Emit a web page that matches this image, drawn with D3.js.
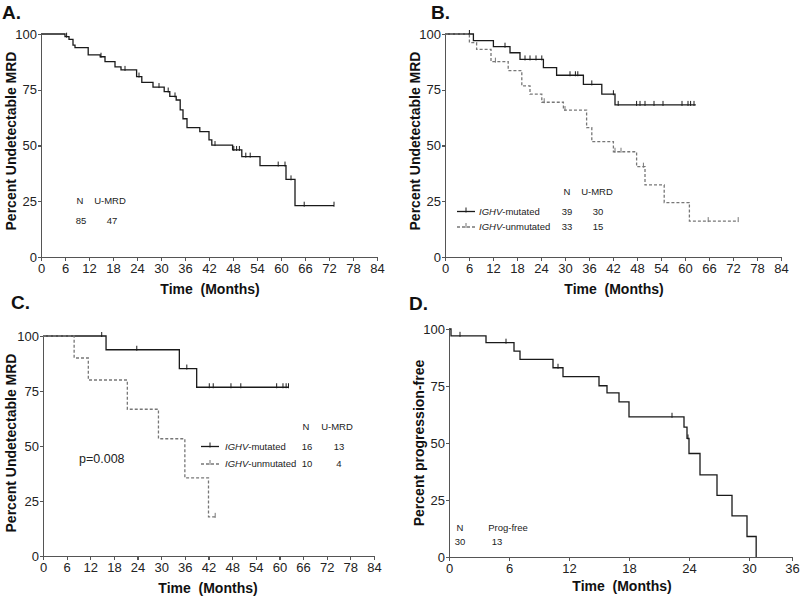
<!DOCTYPE html>
<html>
<head>
<meta charset="utf-8">
<title>Undetectable MRD - Kaplan-Meier</title>
<style>
body { margin:0; background:#fff; }
svg { font-family: "Liberation Sans", Arial, Helvetica, sans-serif; }
.axis path, .axis line { stroke:#555; stroke-width:1.2; shape-rendering:crispEdges; }
.axis text { font-size:13px; fill:#222; }
.ttl { font-size:14px; font-weight:bold; fill:#111; white-space:pre; }
.lbl { font-size:19px; font-weight:bold; fill:#111; }
.leg { font-size:9.5px; fill:#222; }
.km { fill:none; stroke:#1a1a1a; stroke-width:1.3; }
.km.dash { stroke:#777; stroke-dasharray:3,2; }
.cens { stroke:#1a1a1a; stroke-width:1; }
.cens.dash { stroke:#777; }
</style>
</head>
<body>
<script src="https://d3js.org/d3.v7.min.js"></script>
<script>

// ticks
var monthTicks = [0,6,12,18,24,30,36,42,48,54,60,66,72,78,84];
var dMonthTicks = [0,6,12,18,24,30,36];
var pctTicks = [0,25,50,75,100];

// A. all patients -- [month, percent] after each step
var aSteps = [[0,100],[6,98.8],[7,97.6],[8,95],[8.5,93.9],[11.8,90.6],[14.8,89.8],[16,87.6],[18.5,85.3],[20,83.9],
  [23.9,80.9],[25.2,78.3],[28,76.2],[30.8,74.2],[32.2,72],[33.8,70.4],[34.8,66],[35.5,62],[36.5,58],[39.7,56.2],
  [42,52.5],[42.7,50.2],[47.9,48],[50.2,45],[54.75,41],[61.25,34.8],[63.5,23],[73.25,23]];
var aCens = [6.4,15,21,24.5,29.5,31.8,33.5,43.5,48.2,48.9,49.6,51.2,52.3,59.3,61,62.5,65.8,73.25];

// B. IGHV
var bMutSteps = [[0,100],[7.1,97],[12.1,94.3],[16.25,91.6],[18.75,88.6],[24.6,84.9],[27.9,81.5],[34.6,77.4],
  [39.2,73],[42.5,68.2],[62.7,68.2]];
var bMutCens = [6.1,15,20,21.25,22.75,24.2,31.25,32.6,33.2,36.7,42.1,43.3,47.9,48.75,50,52.25,54.5,59.25,60.75,61.4,62.25];
var bUnmSteps = [[0,100],[6.1,96.1],[7.9,93.1],[11.5,87.6],[15.8,83.6],[19.2,76.7],[21.25,73],[24.2,69.4],
  [29.6,65.9],[35.4,58],[36.7,51.7],[42.1,47.2],[47.9,40.5],[50,32.3],[54.8,24.4],[61.1,16.1],[73.3,16.1]];
var bUnmCens = [12.6,24.8,30,42.5,44,49.6,65.8,73.3];

// C. IGHV subset
var cMutSteps = [[0,100],[16,93.75],[34.6,85.2],[39,76.7],[62.3,76.7]];
var cMutCens = [14.9,23.8,36.5,42.2,43.2,47.7,50.2,59.3,60.9,61.7,62.3];
var cUnmSteps = [[0,100],[7.9,90],[11.5,80],[21.4,66.7],[29.3,53.3],[36,35.5],[42,17.8],[43.7,17.8]];
var cUnmCens = [43.7];

// D. progression-free
var dSteps = [[0,100],[0.2,97],[3.7,94],[6.5,90.3],[7.1,86.7],[10.4,83],[11.4,79.1],[15,75.1],[15.8,72],
  [17,68],[18,61.5],[23.5,57],[23.8,52],[24,45.4],[25.1,36],[26.8,27],[28.3,18],[29.8,9],[31,0]];
var dCens = [1.1,5.7,10.9,22.3,23.9];

// legend tables
var aLegHead = ["N","U-MRD"], aLegRow = ["85","47"];
var bLegHead = ["N","U-MRD"];
var bLegRows = [["mutated","39","30"],["unmutated","33","15"]];
var cLegRows = [["mutated","16","13"],["unmutated","10","4"]];
var dLegHead = ["N","Prog-free"], dLegRow = ["30","13"];

var svg = d3.select("body").append("svg")
    .attr("width", 800)
    .attr("height", 597);

function valAt(steps, t) {
  var v = steps[0][1];
  steps.forEach(function(s) { if (s[0] <= t) v = s[1]; });
  return v;
}

function panel(p) {
  var g = svg.append("g");
  var x = d3.scaleLinear().domain(p.xDomain).range(p.xRange);
  var y = d3.scaleLinear().domain([0,100]).range([p.y0, p.y1]);

  g.append("g").attr("class","axis")
    .attr("transform","translate(0," + p.y0 + ")")
    .call(d3.axisBottom(x).tickValues(p.ticks).tickSize(4).tickSizeOuter(0).tickPadding(3));
  g.append("g").attr("class","axis")
    .attr("transform","translate(" + p.xRange[0] + ",0)")
    .call(d3.axisLeft(y).tickValues(pctTicks).tickSize(3).tickSizeOuter(0).tickPadding(1));

  var line = d3.line().x(function(d){ return x(d[0]); }).y(function(d){ return y(d[1]); })
      .curve(d3.curveStepAfter);

  p.curves.forEach(function(c) {
    g.append("path").datum(c.steps)
      .attr("class", "km" + (c.dash ? " dash" : ""))
      .attr("d", line);
    g.selectAll(null).data(c.cens).enter().append("line")
      .attr("class", "cens" + (c.dash ? " dash" : ""))
      .attr("x1", function(t){ return x(t); }).attr("x2", function(t){ return x(t); })
      .attr("y1", function(t){ return y(valAt(c.steps, t)) - 4; })
      .attr("y2", function(t){ return y(valAt(c.steps, t)) + 1; });
  });

  g.append("text").attr("class","lbl").attr("x", p.lbl[0]).attr("y", p.lbl[1]).text(p.letter);
  g.append("text").attr("class","ttl").attr("text-anchor","middle")
    .attr("x", p.xt[0]).attr("y", p.xt[1]).text("Time  (Months)");
  g.append("text").attr("class","ttl").attr("text-anchor","middle")
    .attr("transform","translate(" + p.yt[0] + "," + p.yt[1] + ") rotate(-90)")
    .text(p.ytitle);
  return g;
}

function legendRows(g, rows, lx, tx, nx, ux, y0, dy) {
  rows.forEach(function(r, i) {
    var yy = y0 + i * dy;
    var dash = i === 1;
    g.append("line").attr("class", "km" + (dash ? " dash" : ""))
      .attr("x1", lx).attr("x2", lx + 18).attr("y1", yy - 3).attr("y2", yy - 3);
    g.append("line").attr("class", "cens" + (dash ? " dash" : ""))
      .attr("x1", lx + 9).attr("x2", lx + 9).attr("y1", yy - 7).attr("y2", yy - 2);
    var t = g.append("text").attr("class","leg").attr("x", tx).attr("y", yy);
    t.append("tspan").attr("font-style","italic").text("IGHV");
    t.append("tspan").text("-" + r[0]);
    g.append("text").attr("class","leg").attr("text-anchor","middle").attr("x", nx).attr("y", yy).text(r[1]);
    g.append("text").attr("class","leg").attr("text-anchor","middle").attr("x", ux).attr("y", yy).text(r[2]);
  });
}

function headRow(g, vals, xs, yy) {
  vals.forEach(function(v, i) {
    g.append("text").attr("class","leg").attr("text-anchor","middle").attr("x", xs[i]).attr("y", yy).text(v);
  });
}

// A
var gA = panel({ letter:"A.", lbl:[2,19], xDomain:[0,84], xRange:[41,377], y0:257, y1:34, ticks:monthTicks,
  xt:[210,294], yt:[16,141], ytitle:"Percent Undetectable MRD",
  curves:[{steps:aSteps, cens:aCens}] });
headRow(gA, aLegHead, [80,110], 204);
headRow(gA, aLegRow, [81,112], 224);

// B
var gB = panel({ letter:"B.", lbl:[431,19], xDomain:[0,84], xRange:[445,781], y0:257, y1:34, ticks:monthTicks,
  xt:[614,294], yt:[420,141], ytitle:"Percent Undetectable MRD",
  curves:[{steps:bMutSteps, cens:bMutCens}, {steps:bUnmSteps, cens:bUnmCens, dash:true}] });
headRow(gB, bLegHead, [567,597], 195);
legendRows(gB, bLegRows, 457, 479, 567, 598, 214.5, 15.5);

// C
var gC = panel({ letter:"C.", lbl:[11,309], xDomain:[0,84], xRange:[43,374], y0:556, y1:336, ticks:monthTicks,
  xt:[208,593], yt:[16,443], ytitle:"Percent Undetectable MRD",
  curves:[{steps:cMutSteps, cens:cMutCens}, {steps:cUnmSteps, cens:cUnmCens, dash:true}] });
headRow(gC, bLegHead, [306,337], 430);
legendRows(gC, cLegRows, 201, 225, 307, 339, 449.5, 17.5);
gC.append("text").attr("x", 79).attr("y", 463).attr("font-size", "12.5px").attr("fill", "#222").text("p=0.008");

// D
var gD = panel({ letter:"D.", lbl:[409,310], xDomain:[0,30,36], xRange:[449,749,792], y0:557, y1:329, ticks:dMonthTicks,
  xt:[622,591], yt:[424,443], ytitle:"Percent progression-free",
  curves:[{steps:dSteps, cens:dCens}] });
headRow(gD, dLegHead, [460,508], 531);
headRow(gD, dLegRow, [460,497], 545);

</script>
</body>
</html>
